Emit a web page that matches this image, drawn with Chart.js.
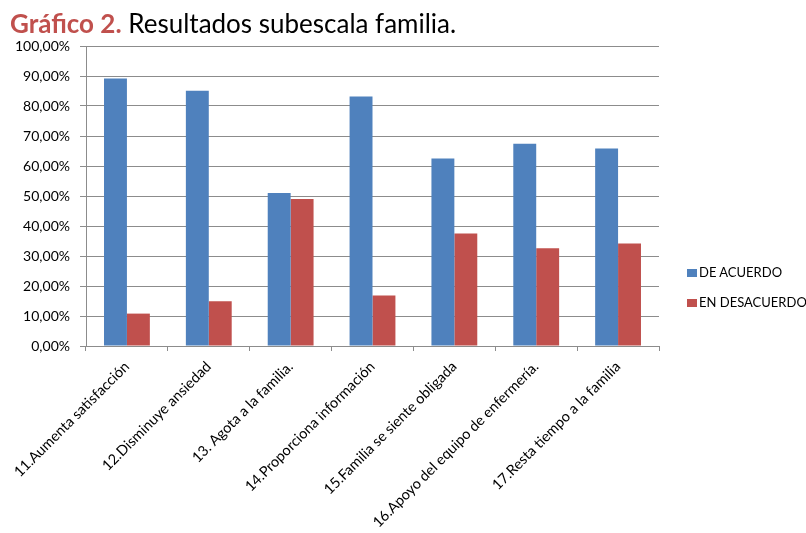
<!DOCTYPE html>
<html>
<head>
<meta charset="utf-8">
<script src="https://cdn.jsdelivr.net/npm/chart.js@4"></script>
<style>
  body { margin: 0; background: #fff; overflow: hidden; }
  #wrap { position: relative; width: 806px; height: 533px; overflow: hidden; }
  #titulo {
    position: absolute; left: 10px; top: 10px;
    font-family: Lato, sans-serif; font-size: 26px; line-height: 1; color: #000;
    white-space: nowrap;
  }
  #titulo b { color: #c0504d; }
  #leyenda {
    position: absolute; left: 687px; top: 263px;
    font-family: Lato, sans-serif; font-size: 13px; color: #000;
    white-space: nowrap;
  }
  #leyenda div { height: 30px; line-height: 18px; }
  #leyenda span {
    display: inline-block; width: 10px; height: 8px; margin-right: 2px;
    vertical-align: 0px;
  }
  canvas { position: absolute; left: 0; top: 0; }
</style>
</head>
<body>
<div id="wrap">
  <canvas id="myChart" width="806" height="533"></canvas>
  <div id="titulo"><b>Gráfico 2.</b> Resultados subescala familia.</div>
  <div id="leyenda"></div>
</div>
<script>
// datos de la subescala familia
var categorias = [
  '11.Aumenta satisfacción',
  '12.Disminuye ansiedad',
  '13. Agota a la familia.',
  '14.Proporciona información',
  '15.Familia se siente obligada',
  '16.Apoyo del equipo de enfermería.',
  '17.Resta tiempo a la familia'
];
var deAcuerdo = [89.2, 85.1, 51.0, 83.2, 62.5, 67.4, 65.8];
var enDesacuerdo = [10.8, 14.9, 49.0, 16.8, 37.5, 32.6, 34.2];
var ticksY = [0, 10, 20, 30, 40, 50, 60, 70, 80, 90, 100];

var gris = '#8c8c8c';

var ctx = document.getElementById('myChart').getContext('2d');
var myChart = new Chart(ctx, {
    type: 'bar',
    data: {
        labels: categorias,
        datasets: [{
            label: 'DE ACUERDO',
            data: deAcuerdo,
            backgroundColor: '#4f81bd'
        },
        {
            label: 'EN DESACUERDO',
            data: enDesacuerdo,
            backgroundColor: '#c0504d'
        }]
    },
    options: {
        responsive: false,
        animation: false,
        layout: {
            padding: { top: 46, left: 0, right: 806 - 659, bottom: 0 }
        },
        datasets: {
            bar: {
                barPercentage: 1,
                categoryPercentage: 0.56
            }
        },
        plugins: {
            legend: { display: false },
            tooltip: { enabled: false }
        },
        scales: {
            y: {
                min: 0,
                max: 100,
                afterBuildTicks: function (s) {
                    s.ticks = ticksY.map(function (v) { return { value: v }; });
                },
                afterFit: function (s) { s.width = 86; },
                ticks: {
                    color: '#000',
                    font: { family: 'Lato, sans-serif', size: 14 },
                    padding: 10,
                    callback: function (v) { return v.toFixed(2).replace('.', ',') + '%'; }
                },
                grid: {
                    color: gris,
                    tickLength: 6
                },
                border: { color: gris }
            },
            x: {
                afterFit: function (s) { s.height = 533 - 346; },
                ticks: {
                    color: '#000',
                    font: { family: 'Lato, sans-serif', size: 14.5 },
                    maxRotation: 45,
                    minRotation: 45,
                    padding: 7
                },
                grid: {
                    drawOnChartArea: false,
                    color: gris,
                    tickLength: 5,
                    offset: true
                },
                border: { color: gris }
            }
        }
    }
});

// leyenda a la derecha, con los colores de cada serie
var leyenda = document.getElementById('leyenda');
myChart.data.datasets.forEach(function (ds) {
    var fila = document.createElement('div');
    var caja = document.createElement('span');
    caja.style.background = ds.backgroundColor;
    fila.appendChild(caja);
    fila.appendChild(document.createTextNode(ds.label));
    leyenda.appendChild(fila);
});
</script>
</body>
</html>
